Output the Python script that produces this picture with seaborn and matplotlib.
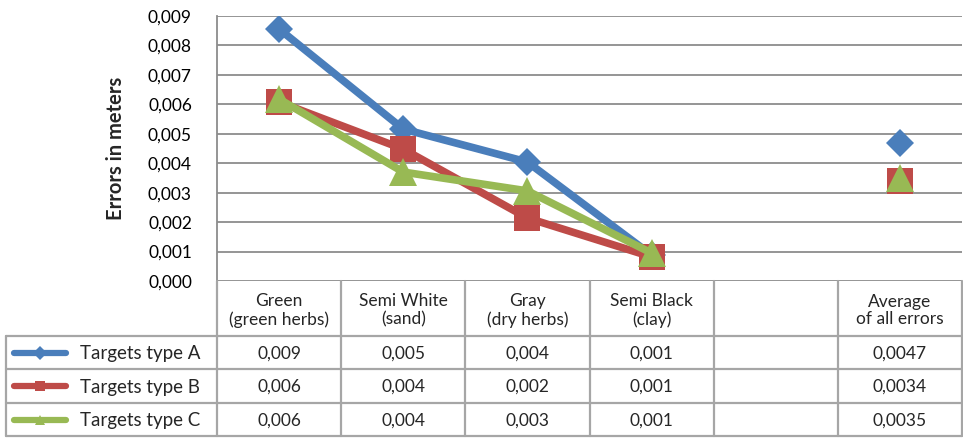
import numpy as np
import pandas as pd
import matplotlib
matplotlib.use("Agg")
import matplotlib.pyplot as plt
import seaborn as sns
from matplotlib.lines import Line2D

# data
categories = ["Green\n(green herbs)", "Semi White\n(sand)", "Gray\n(dry herbs)",
              "Semi Black\n(clay)", "", "Average\nof all errors"]
series_names = ["Targets type A", "Targets type B", "Targets type C"]
type_a = [0.00856, 0.00516, 0.00404, 0.00088]
type_b = [0.00608, 0.00448, 0.00214, 0.00082]
type_c = [0.00618, 0.00370, 0.00306, 0.00095]
averages = [0.0047, 0.0034, 0.0035]

colors = ["#4a7ebb", "#be4b48", "#98b954"]
markers = ["D", "s", "^"]
msizes = [14, 19, 20]

sns.set_theme(style="white")
plt.rcParams["font.family"] = ["Lato", "DejaVu Sans"]

W, H = 963, 438
fig = plt.figure(figsize=(W / 100, H / 100), dpi=100)

# plot area in pixels
px0, px1, py0, py1 = 217, 962, 16, 281
ax = fig.add_axes([px0 / W, 1 - py1 / H, (px1 - px0) / W, (py1 - py0) / H])

rows = []
for name, vals in zip(series_names, [type_a, type_b, type_c]):
    for i, v in enumerate(vals):
        rows.append({"series": name, "x": i, "value": v})
df = pd.DataFrame(rows)
avg_df = pd.DataFrame({"series": series_names, "x": [5] * 3, "value": averages})

for name, c, m, ms in zip(series_names, colors, markers, msizes):
    sub = df[df["series"] == name]
    sns.lineplot(data=sub, x="x", y="value", ax=ax, color=c, lw=5.5,
                 marker=m, markersize=ms, markeredgewidth=0, legend=False, zorder=3)
for name, c, m, ms in zip(series_names, colors, markers, msizes):
    sub = avg_df[avg_df["series"] == name]
    ax.plot(sub["x"], sub["value"], ls="none", marker=m, markersize=ms,
            color=c, markeredgewidth=0, zorder=3)

ax.set_xlim(-0.5, len(categories) - 0.5)
ax.set_ylim(0, 0.009)
yt = np.arange(0, 0.0091, 0.001)
ax.set_yticks(yt)
ax.set_yticklabels([f"{t:.3f}".replace(".", ",") for t in yt], fontsize=12.5)
ax.tick_params(axis="y", length=0, pad=18, colors="black")
ax.set_xticks([])
ax.set_xlabel("")
ax.set_ylabel("Errors in meters", fontsize=14.5, fontweight="bold", labelpad=16)
ax.grid(axis="y", color="#8c8c8c", lw=1.3)
ax.set_axisbelow(True)
for s in ["top", "right", "bottom"]:
    ax.spines[s].set_visible(False)
ax.spines["left"].set_color("#8c8c8c")
ax.spines["left"].set_linewidth(1.3)

# data table under the plot, in pixel coordinates
tab = fig.add_axes([0, 0, 1, 1], facecolor="none")
tab.set_xlim(0, W)
tab.set_ylim(H, 0)
tab.axis("off")
lc = "#a6a6a6"
lw = 1.6
ncol = len(categories)
cw = (px1 - px0) / ncol
row_y = [281, 336, 369, 403, 436]
col_x = [px0 + i * cw for i in range(ncol + 1)]

for x in col_x:
    tab.plot([x, x], [row_y[0], row_y[-1]], color=lc, lw=lw)
tab.plot([6, 6], [row_y[1], row_y[-1]], color=lc, lw=lw)
for y in row_y[1:]:
    tab.plot([6, px1], [y, y], color=lc, lw=lw)

for i, lab in enumerate(categories):
    tab.text(px0 + (i + 0.5) * cw, (row_y[0] + row_y[1]) / 2 + 2, lab,
             ha="center", va="center", fontsize=12.5, linespacing=1.15)

table_vals = []
for vals, avg in zip([type_a, type_b, type_c], averages):
    table_vals.append([f"{v:.3f}".replace(".", ",") for v in vals] + [""]
                      + [f"{avg:.4f}".replace(".", ",")])

for r, (name, c, m) in enumerate(zip(series_names, colors, markers)):
    yc = (row_y[r + 1] + row_y[r + 2]) / 2
    tab.add_line(Line2D([14, 66], [yc, yc], color=c, lw=4.5,
                        solid_capstyle="round", marker=None))
    tab.add_line(Line2D([40], [yc], color=c, marker=m, markersize=7,
                        markeredgewidth=0))
    tab.text(80, yc + 1, name, ha="left", va="center", fontsize=13.5)
    for i, t in enumerate(table_vals[r]):
        tab.text(px0 + (i + 0.5) * cw, yc + 1, t, ha="center", va="center",
                 fontsize=12.5)

fig.savefig("out.png", dpi=100)
